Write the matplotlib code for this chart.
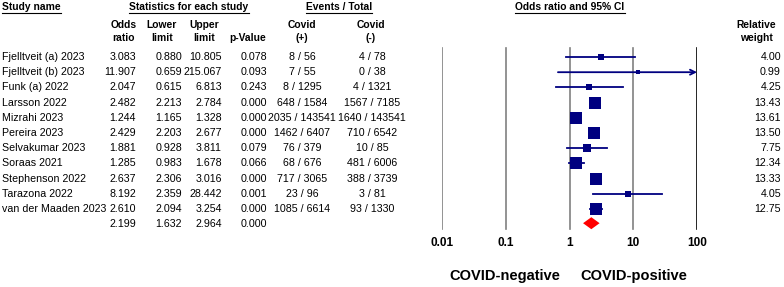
import numpy as np
import matplotlib
matplotlib.use('Agg')
import matplotlib.pyplot as plt

plt.rcParams['font.family'] = ['Liberation Sans', 'DejaVu Sans']

# donnees
studies = ['Fjelltveit (a) 2023', 'Fjelltveit (b) 2023', 'Funk (a) 2022', 'Larsson 2022',
           'Mizrahi 2023', 'Pereira 2023', 'Selvakumar 2023', 'Soraas 2021',
           'Stephenson 2022', 'Tarazona 2022', 'van der Maaden 2023']
odds = [3.083, 11.907, 2.047, 2.482, 1.244, 2.429, 1.881, 1.285, 2.637, 8.192, 2.610]
lower = [0.880, 0.659, 0.615, 2.213, 1.165, 2.203, 0.928, 0.983, 2.306, 2.359, 2.094]
upper = [10.805, 215.067, 6.813, 2.784, 1.328, 2.677, 3.811, 1.678, 3.016, 28.442, 3.254]
pval = [0.078, 0.093, 0.243, 0.000, 0.000, 0.000, 0.079, 0.066, 0.000, 0.001, 0.000]
ev_pos = ['8 / 56', '7 / 55', '8 / 1295', '648 / 1584', '2035 / 143541', '1462 / 6407',
          '76 / 379', '68 / 676', '717 / 3065', '23 / 96', '1085 / 6614']
ev_neg = ['4 / 78', '0 / 38', '4 / 1321', '1567 / 7185', '1640 / 143541', '710 / 6542',
          '10 / 85', '481 / 6006', '388 / 3739', '3 / 81', '93 / 1330']
weight = [4.00, 0.99, 4.25, 13.43, 13.61, 13.50, 7.75, 12.34, 13.33, 4.05, 12.75]
summary = (2.199, 1.632, 2.964, 0.000)
ticks = [0.01, 0.1, 1, 10, 100]
tick_labels = ['0.01', '0.1', '1', '10', '100']

W, H = 784, 287
fig = plt.figure(figsize=(W / 100, H / 100), dpi=100)
ax = fig.add_axes([0, 0, 1, 1])
ax.set_xlim(0, W)
ax.set_ylim(H, 0)
ax.axis('off')

fs = 7.7
hfs = 7.4
navy = '#000080'

row_y = [57 + 15.2 * i for i in range(len(studies) + 1)]

# en-tetes soulignes
heads = [('Study name', 2, 'left'), ('Statistics for each study', 189, 'center'),
         ('Events / Total', 339, 'center'), ('Odds ratio and 95% CI', 570, 'center')]
head_txt = []
for t, x, ha in heads:
    head_txt.append(ax.text(x, 7, t, ha=ha, va='center', fontsize=hfs, fontweight='bold'))

sub = [('Odds', 'ratio', 124), ('Lower', 'limit', 162), ('Upper', 'limit', 204),
       ('Covid', '(+)', 302), ('Covid', '(-)', 371), ('Relative', 'weight', 756)]
for a, b, x in sub:
    ax.text(x, 25, a, ha='center', va='center', fontsize=hfs, fontweight='bold')
    ax.text(x, 38, b, ha='center', va='center', fontsize=hfs, fontweight='bold')
ax.text(248, 38, 'p-Value', ha='center', va='center', fontsize=hfs, fontweight='bold')

for i, s in enumerate(studies):
    y = row_y[i]
    ax.text(2, y, s, ha='left', va='center', fontsize=fs)
    ax.text(136, y, '%.3f' % odds[i], ha='right', va='center', fontsize=fs)
    ax.text(182, y, '%.3f' % lower[i], ha='right', va='center', fontsize=fs)
    ax.text(222, y, '%.3f' % upper[i], ha='right', va='center', fontsize=fs)
    ax.text(267, y, '%.3f' % pval[i], ha='right', va='center', fontsize=fs)
    ax.text(302, y, ev_pos[i], ha='center', va='center', fontsize=fs)
    ax.text(372, y, ev_neg[i], ha='center', va='center', fontsize=fs)
    ax.text(781, y, '%.2f' % weight[i], ha='right', va='center', fontsize=fs)

ys = row_y[-1]
ax.text(136, ys, '%.3f' % summary[0], ha='right', va='center', fontsize=fs)
ax.text(182, ys, '%.3f' % summary[1], ha='right', va='center', fontsize=fs)
ax.text(222, ys, '%.3f' % summary[2], ha='right', va='center', fontsize=fs)
ax.text(267, ys, '%.3f' % summary[3], ha='right', va='center', fontsize=fs)

# soulignement des en-tetes
fig.canvas.draw()
rend = fig.canvas.get_renderer()
inv = ax.transData.inverted()
for t in head_txt:
    bb = t.get_window_extent(rend)
    (x0, y0), (x1, y1) = inv.transform([(bb.x0, bb.y0), (bb.x1, bb.y1)])
    ax.plot([x0, x1], [y0 + 0.8, y0 + 0.8], color='black', lw=0.8)

# forest plot
x_left, x_right = 442, 697
fx = fig.add_axes([x_left / W, 0, (x_right - x_left) / W, 1])
fx.set_xscale('log')
fx.set_xlim(0.01, 100)
fx.set_ylim(H, 0)
fx.axis('off')
fx.patch.set_alpha(0)

for t in ticks:
    fx.plot([t, t], [48, 229], color='black' if t == 100 else '#808080', lw=1.2, zorder=1)
    fx.text(t, 243, tick_labels[ticks.index(t)], ha='center', va='center',
            fontsize=8.5, fontweight='bold')

for i in range(len(studies)):
    y = row_y[i]
    hi = min(upper[i], 100)
    if upper[i] > 100:
        fx.annotate('', xy=(hi, y), xytext=(lower[i], y),
                    arrowprops=dict(arrowstyle='->', color=navy, lw=1.3,
                                    shrinkA=0, shrinkB=0, mutation_scale=9))
    else:
        fx.plot([lower[i], hi], [y, y], color=navy, lw=1.3, zorder=2)
    side = 3.2 * np.sqrt(weight[i]) * 0.72
    fx.plot(odds[i], y, marker='s', markersize=side, color=navy, mec=navy, mew=0, zorder=3)

lo_s, hi_s = summary[1], summary[2]
fx.fill([lo_s, summary[0], hi_s, summary[0]], [ys - 1, ys - 7, ys - 1, ys + 5],
        color='#ff0000', lw=0, zorder=3)

ax.text(560, 276, 'COVID-negative', ha='right', va='center', fontsize=10.5, fontweight='bold')
ax.text(580, 276, 'COVID-positive', ha='left', va='center', fontsize=10.5, fontweight='bold')

fig.savefig('out.png', dpi=100)
